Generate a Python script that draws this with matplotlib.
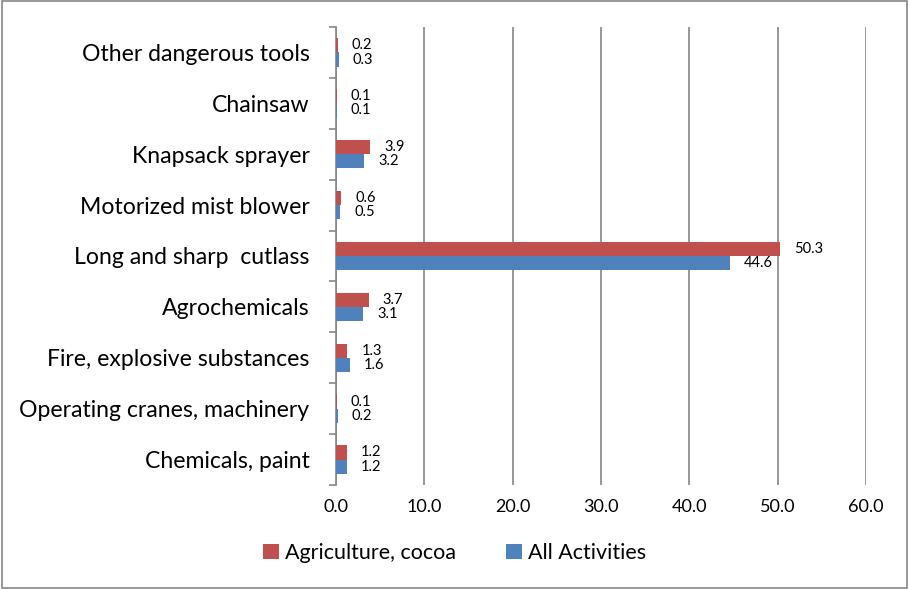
import matplotlib
matplotlib.use("Agg")
import matplotlib.pyplot as plt
import numpy as np
from matplotlib.patches import Rectangle

categories = ["Other dangerous tools", "Chainsaw", "Knapsack sprayer", "Motorized mist blower",
              "Long and sharp  cutlass", "Agrochemicals", "Fire, explosive substances",
              "Operating cranes, machinery", "Chemicals, paint"]
agri = [0.2, 0.1, 3.9, 0.6, 50.3, 3.7, 1.3, 0.1, 1.2]
allact = [0.3, 0.1, 3.2, 0.5, 44.6, 3.1, 1.6, 0.2, 1.2]
xticks = [0, 10, 20, 30, 40, 50, 60]

plt.rcParams['font.family'] = ['Lato', 'DejaVu Sans']

fig = plt.figure(figsize=(9.09, 5.89), dpi=100)
ax = fig.add_axes([336/909, (589-485)/589, 530/909, (485-27)/589])

red = "#C0504D"
blue = "#4F81BD"
n = len(categories)
y = np.arange(n)[::-1]
h = 0.28
ax.barh(y + h/2, agri, height=h, color=red, label="Agriculture, cocoa", zorder=3)
ax.barh(y - h/2, allact, height=h, color=blue, label="All Activities", zorder=3)

for yi, a, b in zip(y, agri, allact):
    ax.annotate(f"{a:.1f}", (a, yi + h/2), xytext=(10, 0), textcoords="offset points",
                va="center", ha="left", fontsize=10.5, color="#000000")
    ax.annotate(f"{b:.1f}", (b, yi - h/2), xytext=(10, 0), textcoords="offset points",
                va="center", ha="left", fontsize=10.5, color="#000000")

ax.set_xlim(0, 60)
ax.set_ylim(-0.5, n - 0.5)
ax.set_xticks(xticks)
ax.set_xticklabels([f"{v:.1f}" for v in xticks], fontsize=13)
ax.set_yticks(y)
ax.set_yticklabels(categories, fontsize=16.6)
ax.set_yticks(np.arange(-0.5, n, 1), minor=True)
ax.tick_params(axis='y', which='major', length=0, pad=19)
ax.tick_params(axis='y', which='minor', length=5, color="#868686", width=1.2)
ax.tick_params(axis='x', length=0, pad=10)
ax.grid(axis='x', color="#868686", linewidth=1.2, zorder=0)
for s in ["top", "right", "bottom"]:
    ax.spines[s].set_visible(False)
ax.spines["left"].set_color("#868686")
ax.spines["left"].set_linewidth(1.2)

leg = fig.legend(loc="center", bbox_to_anchor=(0.5, (589-553)/589), ncol=2, frameon=False,
                 fontsize=15.5, handlelength=0.75, handleheight=0.75, handletextpad=0.3,
                 columnspacing=2.3)

fig.patches.append(Rectangle((0.002, 0.002), 0.996, 0.996, transform=fig.transFigure,
                             fill=False, edgecolor="#868686", linewidth=1.2))

fig.savefig("out.png", dpi=100)
